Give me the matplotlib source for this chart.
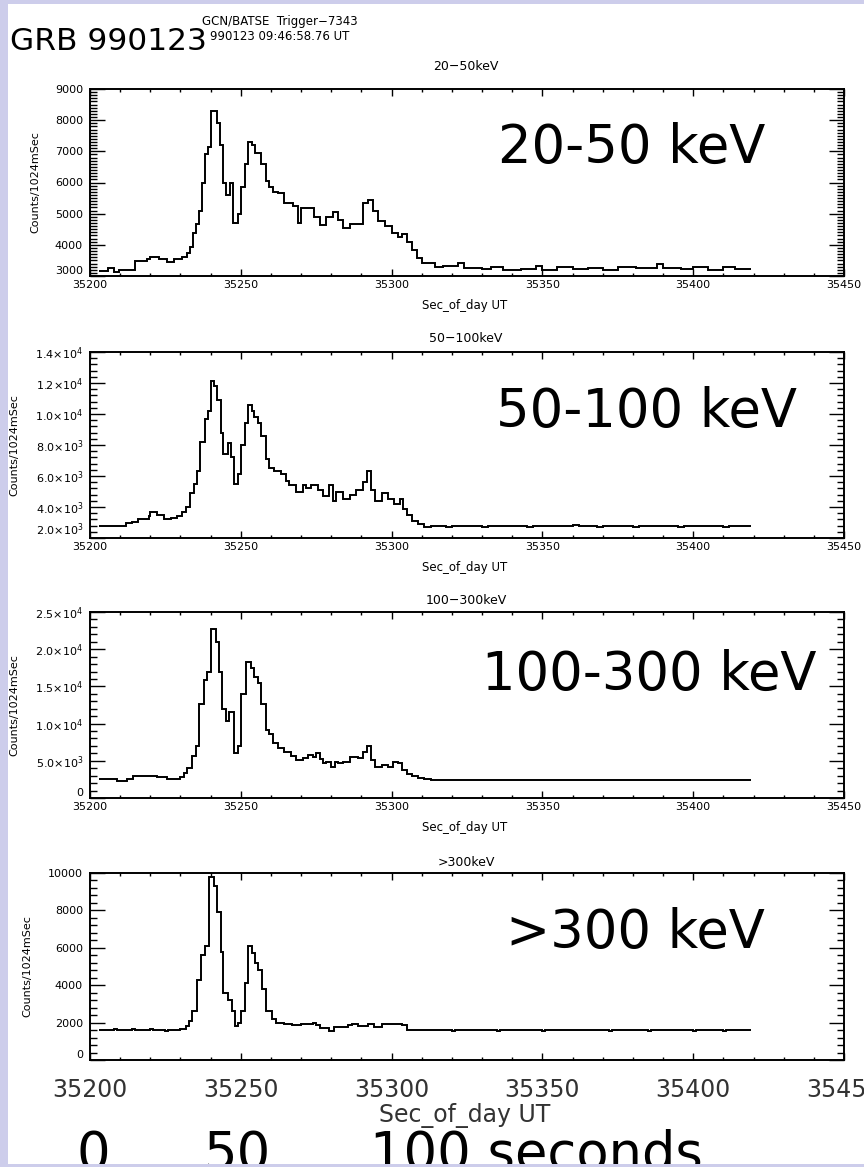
import numpy as np
import matplotlib.pyplot as plt
from matplotlib.ticker import MultipleLocator, FuncFormatter
from matplotlib.patches import Rectangle

W, H = 864, 1167

# BATSE light curves of GRB 990123, counts per 1.024 s bin.
# Each count holds from its start time until the next start time.
t_end = 35419.0

t_20_50 = [35203, 35206, 35208, 35209.5, 35215, 35219, 35220, 35223, 35225.5, 35228,
           35230.5, 35232, 35233, 35234, 35235, 35236, 35237, 35238, 35239, 35240,
           35242, 35243, 35244, 35245, 35246.3, 35247.5, 35249, 35250, 35251.5, 35252.5,
           35253.6, 35254.7, 35256.7, 35258.3, 35259.4, 35260.6, 35262.2, 35264.4, 35267.2, 35268.9,
           35270, 35274.4, 35276.1, 35278.3, 35280.6, 35282.2, 35283.9, 35286.1, 35290.6, 35292.2,
           35293.9, 35295.6, 35297.8, 35300, 35302.2, 35303.3, 35305, 35306.7, 35308.3, 35310,
           35314.4, 35317, 35322, 35324, 35330, 35333, 35337, 35343, 35348, 35350,
           35355, 35360, 35365, 35370, 35375, 35381, 35388, 35390, 35396, 35400,
           35405, 35410, 35414]
c_20_50 = [3170, 3270, 3130, 3200, 3490, 3560, 3620, 3550, 3460, 3530,
           3620, 3730, 3940, 4370, 4680, 5100, 6000, 6900, 7150, 8300,
           7900, 7200, 6000, 5600, 6000, 4700, 5000, 5850, 6600, 7300,
           7200, 6950, 6600, 6050, 5850, 5700, 5650, 5350, 5230, 4700,
           5180, 4900, 4640, 4900, 5050, 4800, 4550, 4680, 5330, 5450,
           5070, 4750, 4600, 4370, 4250, 4350, 4100, 3840, 3570, 3420,
           3300, 3330, 3420, 3250, 3220, 3300, 3200, 3230, 3310, 3200,
           3280, 3220, 3250, 3200, 3280, 3250, 3380, 3260, 3230, 3300,
           3200, 3280, 3220]

t_50_100 = [35203, 35212, 35214, 35216, 35219.4, 35220, 35222.2, 35224.4, 35226.7, 35228.9,
            35230.6, 35231.7, 35233.3, 35234.4, 35235.6, 35236.4, 35238, 35239.1, 35240, 35241.1,
            35242.2, 35243.3, 35244.2, 35245.6, 35246.7, 35247.8, 35249.1, 35250, 35251.3, 35252.4,
            35253.6, 35254.4, 35255.6, 35256.7, 35258.3, 35259.4, 35260.9, 35263.3, 35265, 35266.1,
            35268.3, 35270.6, 35271.7, 35273.3, 35275.6, 35277.2, 35279.4, 35280.6, 35281.7, 35283.9,
            35286.1, 35288.3, 35290.6, 35291.7, 35293.1, 35294.4, 35296.7, 35298.9, 35300.9, 35302.8,
            35303.9, 35305, 35306.7, 35308.9, 35310.6, 35313, 35318, 35320, 35330, 35332,
            35345, 35347, 35360, 35362, 35368, 35370, 35380, 35382, 35395, 35397,
            35410, 35412]
c_50_100 = [2800, 2950, 3050, 3200, 3400, 3650, 3500, 3200, 3300, 3450,
            3700, 4000, 4900, 5500, 6300, 8200, 9700, 10200, 12100, 11800,
            10900, 8800, 7400, 8100, 7200, 5500, 6100, 8000, 9400, 10600,
            10200, 9800, 9400, 8600, 7100, 6500, 6300, 6100, 5700, 5400,
            5000, 5400, 5200, 5400, 5100, 4700, 5400, 4400, 5000, 4500,
            4800, 5100, 5600, 6300, 5100, 4400, 4900, 4500, 4200, 4500,
            3900, 3500, 3100, 2900, 2700, 2750, 2700, 2780, 2700, 2780,
            2700, 2800, 2850, 2780, 2720, 2780, 2720, 2780, 2720, 2780,
            2720, 2780]

t_100_300 = [35203, 35208.9, 35212.2, 35214.4, 35218.9, 35222.2, 35225.6, 35230, 35231.1, 35232.2,
             35233.9, 35235, 35236.3, 35237.8, 35238.9, 35240, 35241.7, 35242.8, 35243.9, 35245,
             35246.1, 35247.8, 35249.1, 35250.2, 35251.7, 35253.3, 35254.4, 35255.6, 35256.7, 35258.3,
             35259.4, 35260.6, 35262.2, 35264.4, 35266.7, 35268.3, 35270.6, 35272.2, 35273.9, 35275,
             35276.1, 35277.2, 35278.3, 35280, 35281.1, 35282.2, 35283.9, 35286.1, 35288.9, 35290.6,
             35291.7, 35293.1, 35294.4, 35296.7, 35298.9, 35300.6, 35302.2, 35303.3, 35305, 35306.7,
             35308.9, 35310.6, 35313, 35352, 35353, 35358, 35359, 35364, 35365, 35380,
             35381, 35390, 35391]
c_100_300 = [2540, 2320, 2600, 2900, 3000, 2800, 2600, 2800, 3300, 4000,
             5600, 7000, 12600, 15800, 16900, 22700, 21000, 17000, 12000, 10300,
             11500, 6000, 7000, 14000, 18300, 17500, 16300, 15400, 12700, 9100,
             8600, 7400, 6700, 6200, 5600, 5100, 5400, 5800, 5500, 6000,
             5300, 4700, 4900, 4100, 4800, 4700, 4900, 5500, 5400, 6200,
             7000, 5100, 4200, 4500, 4100, 4800, 4700, 3800, 3200, 2900,
             2700, 2550, 2450, 2380, 2450, 2380, 2450, 2380, 2450, 2380,
             2450, 2380, 2450]

t_300 = [35203, 35208, 35209, 35214, 35215, 35220, 35221, 35225, 35226, 35230,
         35231.7, 35232.8, 35233.9, 35235.6, 35236.7, 35238, 35239.4, 35241.1, 35242, 35243.3,
         35244.2, 35245.6, 35247.2, 35248, 35249.1, 35250.2, 35251.3, 35252.4, 35253.6, 35254.7,
         35255.8, 35256.9, 35258.3, 35260.2, 35261.7, 35264.4, 35267, 35270, 35273.9, 35275,
         35276.1, 35279.4, 35281, 35285.6, 35287, 35288.9, 35292.2, 35294, 35296.7, 35301.1,
         35303.3, 35305, 35320, 35321, 35335, 35336, 35350, 35351, 35372, 35373,
         35385, 35386, 35400, 35401, 35410, 35411]
c_300 = [1600, 1650, 1600, 1650, 1600, 1650, 1600, 1550, 1600, 1650,
         1800, 2100, 2600, 4300, 5600, 6100, 9800, 9300, 7900, 5800,
         3600, 3200, 2600, 1800, 2000, 2600, 4100, 6100, 5700, 5200,
         4800, 3800, 2600, 2200, 2000, 1900, 1850, 1900, 2000, 1850,
         1700, 1550, 1750, 1850, 1950, 1800, 1950, 1750, 1900, 1950,
         1850, 1600, 1550, 1600, 1550, 1600, 1550, 1600, 1550, 1600,
         1550, 1600, 1550, 1600, 1550, 1600]

band_titles = ['20\u221250keV', '50\u2212100keV', '100\u2212300keV', '>300keV']
band_labels = ['20-50 keV', '50-100 keV', '100-300 keV', '>300 keV']
x_ticks = [35200, 35250, 35300, 35350, 35400, 35450]


def fx(px):
    return px / W


def fy(py):
    return 1 - py / H


def plain_label(v, pos):
    return f'{int(round(v))}'


def sci_label(v, pos):
    if abs(v) < 1e-6:
        return '0'
    if v < 0:
        return ''
    e = int(np.floor(np.log10(v) + 1e-9))
    m = v / 10 ** e
    return rf'${m:.1f}{{\times}}10^{{{e}}}$'


# (times, counts, ylim, major, minor, formatter, axes top px, axes bottom px, ylabel x px)
panels = [
    (t_20_50, c_20_50, (3000, 9000), 1000, 100, plain_label, 89, 276, 35),
    (t_50_100, c_50_100, (2000, 14000), 2000, 400, sci_label, 352, 538, 14),
    (t_100_300, c_100_300, (0, 25000), 5000, 1000, sci_label, 612, 798, 14),
    (t_300, c_300, (0, 10000), 2000, 400, plain_label, 873, 1060, 27),
]
title_y = [66, 339, 600, 862]
label_pos = [(632, 163), (647, 427), (649, 690), (635, 948)]

fig = plt.figure(figsize=(W / 100, H / 100), dpi=100, facecolor='white')
left, right = 90, 844

for i, (t, c, ylim, major, minor, fmt, top, bot, ylab_x) in enumerate(panels):
    ax = fig.add_axes([fx(left), fy(bot), (right - left) / W, (bot - top) / H])
    ax.stairs(c, np.append(t, t_end), baseline=None, color='black', lw=1.4)
    ax.set_xlim(35200, 35450)
    ax.set_ylim(*ylim)
    ax.set_xticks(x_ticks)
    ax.xaxis.set_minor_locator(MultipleLocator(10))
    ax.set_yticks(np.arange(ylim[0], ylim[1] + 1, major))
    ax.yaxis.set_minor_locator(MultipleLocator(minor))
    ax.yaxis.set_major_formatter(FuncFormatter(fmt))
    for s in ax.spines.values():
        s.set_linewidth(1.4)
    ax.tick_params(which='both', direction='in', top=True, right=True, width=1, color='black')
    ax.tick_params(axis='y', which='major', length=11, pad=5, labelsize=8)
    ax.tick_params(axis='y', which='minor', length=5)
    ax.tick_params(axis='x', which='minor', length=2.5)
    # lowest y label sits just above the bottom axis, as in the IDL plot
    ax.get_yticklabels()[0].set_verticalalignment('bottom')
    last = i == len(panels) - 1
    if last:
        ax.tick_params(axis='x', which='major', length=5, pad=13, labelsize=17, labelcolor='#333333')
        fig.text(fx(465), fy(1115), 'Sec_of_day UT', ha='center', va='center',
                 fontsize=17, color='#333333')
    else:
        ax.tick_params(axis='x', which='major', length=5, pad=3, labelsize=8)
        fig.text(fx(465), fy(bot + 29), 'Sec_of_day UT', ha='center', va='center', fontsize=8.5)

    fig.text(fx(466), fy(title_y[i]), band_titles[i], ha='center', va='center', fontsize=9)
    fig.text(fx(ylab_x), fy((top + bot) / 2), 'Counts/1024mSec', rotation=90,
             ha='center', va='center', fontsize=8)
    lx, ly = label_pos[i]
    fig.text(fx(lx), fy(ly), band_labels[i], ha='center', va='baseline', fontsize=38)

# header
fig.text(fx(10), fy(50), 'GRB 990123', ha='left', va='baseline', fontsize=22.5)
fig.text(fx(280), fy(22), 'GCN/BATSE  Trigger\u22127343', ha='center', va='center', fontsize=8.5)
fig.text(fx(280), fy(36), '990123 09:46:58.76 UT', ha='center', va='center', fontsize=8.5)

# time scale along the bottom
fig.text(fx(93), fy(1170), '0', ha='center', va='baseline', fontsize=38)
fig.text(fx(237), fy(1170), '50', ha='center', va='baseline', fontsize=38)
fig.text(fx(370), fy(1170), '100 seconds', ha='left', va='baseline', fontsize=38)

# lavender frame strips
lav = '#cdcdeb'
for (x0, y0, w, h) in [(0, 0, 8, H), (0, 0, W, 4), (0, H - 3, W, 3)]:
    fig.patches.append(Rectangle((fx(x0), fy(y0 + h)), w / W, h / H, transform=fig.transFigure,
                                 facecolor=lav, edgecolor='none', zorder=10))

fig.savefig('out.png', dpi=100, facecolor='white')
